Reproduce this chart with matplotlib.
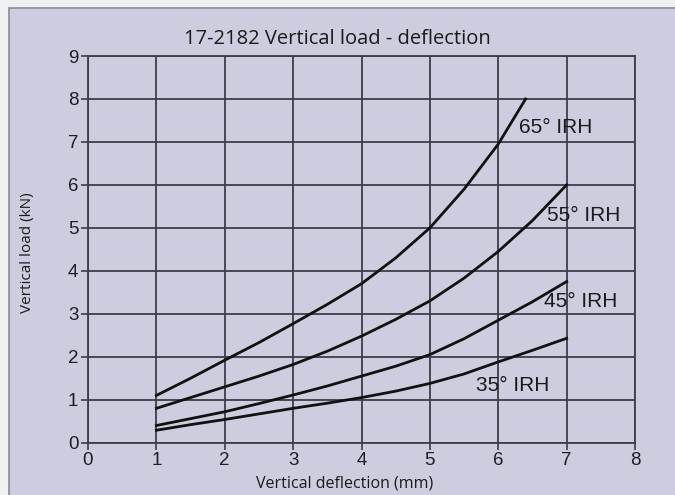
import matplotlib
matplotlib.use("Agg")
import matplotlib.pyplot as plt
from matplotlib.patches import Rectangle

# ---- data ----
x_main = [1, 1.5, 2, 2.5, 3, 3.5, 4, 4.5, 5, 5.5, 6, 6.5, 7]
load_35 = [0.29, 0.42, 0.54, 0.67, 0.80, 0.92, 1.05, 1.20, 1.38, 1.60, 1.88, 2.15, 2.43]
load_45 = [0.40, 0.56, 0.72, 0.91, 1.11, 1.32, 1.55, 1.78, 2.05, 2.42, 2.85, 3.28, 3.75]
load_55 = [0.80, 1.05, 1.30, 1.55, 1.82, 2.13, 2.48, 2.87, 3.30, 3.83, 4.45, 5.17, 6.00]
x_65 = [1, 1.5, 2, 2.5, 3, 3.5, 4, 4.5, 5, 5.5, 6, 6.4]
load_65 = [1.10, 1.50, 1.92, 2.33, 2.77, 3.22, 3.70, 4.30, 5.00, 5.90, 6.95, 8.00]

series_labels = ["35° IRH", "45° IRH", "55° IRH", "65° IRH"]
label_x = [5.67, 6.67, 6.71, 6.30]
label_y = [1.34, 3.28, 5.29, 7.33]

x_ticks = [0, 1, 2, 3, 4, 5, 6, 7, 8]
y_ticks = [0, 1, 2, 3, 4, 5, 6, 7, 8, 9]

title = "17-2182 Vertical load - deflection"
xlabel = "Vertical deflection (mm)"
ylabel = "Vertical load (kN)"

# ---- style ----
outer_bg = "#eff0f2"
panel_bg = "#cdcde0"
grid_col = "#3c3c4a"

W, H = 675, 495
fig = plt.figure(figsize=(W / 100, H / 100), dpi=100, facecolor=outer_bg)

# lavender panel
panel = Rectangle((9 / W, -0.01), 1.01 - 9 / W, (H - 8) / H + 0.01,
                  transform=fig.transFigure, facecolor=panel_bg,
                  edgecolor="#8a8a96", linewidth=1.2, zorder=-10)
fig.patches.append(panel)

ax = fig.add_axes([88 / W, (H - 442.7) / H, (635 - 88) / W, (442.7 - 56) / H])
ax.set_zorder(5)
ax.set_facecolor(panel_bg)
ax.set_xlim(0, 8)
ax.set_ylim(0, 9)
ax.set_xticks(x_ticks)
ax.set_yticks(y_ticks)
ax.grid(True, color=grid_col, linewidth=1.3)
ax.set_axisbelow(True)
for s in ax.spines.values():
    s.set_color(grid_col)
    s.set_linewidth(1.3)
ax.tick_params(direction="out", length=5, width=1.2, color=grid_col,
               labelsize=13.5, labelcolor="#1e1e28", pad=2)
for lab in ax.get_xticklabels() + ax.get_yticklabels():
    lab.set_family("Liberation Sans")

ax.plot(x_main, load_35, color="#111111", lw=2.0)
ax.plot(x_main, load_45, color="#111111", lw=2.0)
ax.plot(x_main, load_55, color="#111111", lw=2.0)
ax.plot(x_65, load_65, color="#111111", lw=2.0)

for t, lx, ly in zip(series_labels, label_x, label_y):
    ax.text(lx, ly, t, ha="left", va="center", fontsize=15,
            family="Liberation Sans", color="#1a1a1a")

fig.text(337 / W, 1 - 39 / H, title, ha="center", va="center",
         fontsize=14.5, family="Open Sans", color="#1a1a1a", zorder=6)
fig.text(345 / W, 1 - 483 / H, xlabel, ha="center", va="center",
         fontsize=11.5, family="Open Sans", color="#1a1a1a", zorder=6)
fig.text(27 / W, 1 - 253 / H, ylabel, ha="center", va="center", rotation=90,
         fontsize=11, family="Open Sans", color="#1a1a1a", zorder=6)

fig.savefig("out.png", dpi=100, facecolor=outer_bg)
